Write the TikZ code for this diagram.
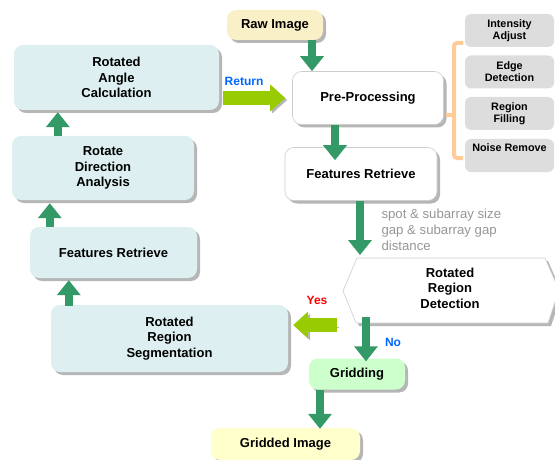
\documentclass[tikz,border=0pt]{standalone}
\usepackage{fontspec}
\setmainfont{Liberation Sans}
\usetikzlibrary{calc}
\usetikzlibrary{arrows.meta}
\usetikzlibrary{shadows}
\definecolor{boxcyan}{RGB}{221,239,240}
\definecolor{boxgray}{RGB}{221,221,221}
\definecolor{boxgreen}{RGB}{204,255,204}
\definecolor{rawyellow}{RGB}{250,240,200}
\definecolor{outyellow}{RGB}{255,255,204}
\definecolor{shadowgray}{RGB}{182,182,182}
\definecolor{edgegray}{RGB}{205,205,205}
\definecolor{darkgreen}{RGB}{51,153,102}
\definecolor{limegreen}{RGB}{153,204,0}
\definecolor{bracketorange}{RGB}{255,204,153}
\definecolor{notegray}{RGB}{150,150,150}
\definecolor{labelblue}{RGB}{0,102,255}

\tikzset{
    flowbox/.style={rounded corners=9pt, align=center, inner sep=0pt,
        font=\bfseries\fontsize{13}{15.5}\selectfont,
        drop shadow={shadow xshift=3pt, shadow yshift=-3pt, fill=shadowgray, opacity=1}},
    cyanbox/.style={flowbox, fill=boxcyan},
    whitebox/.style={flowbox, fill=white, draw=edgegray, line width=0.6pt},
    subbox/.style={rounded corners=6pt, align=center, inner sep=0pt, fill=boxgray,
        minimum width=89, minimum height=33,
        font=\bfseries\fontsize{10.8}{12}\selectfont},
    gbarrow/.style={darkgreen, line width=8pt, -{Triangle[width=23pt,length=15pt]}},
    lgarrow/.style={limegreen, line width=14pt, -{Triangle[width=26pt,length=15pt]},
        preaction={draw=shadowgray, transform canvas={shift={(2pt,-2pt)}}}},
    tag/.style={font=\bfseries\fontsize{12}{14}\selectfont}
}

\begin{document}
\begin{tikzpicture}[x=1pt, y=-1pt]
    \useasboundingbox (0,0) rectangle (555,460);

    % main column
    \node[flowbox, fill=rawyellow, minimum width=96, minimum height=30] (raw) at (275,25) {Raw Image};
    \node[whitebox, minimum width=151, minimum height=53] (pre) at (368,98) {Pre-Processing};
    \node[whitebox, minimum width=152, minimum height=53] (frR) at (361,174) {Features Retrieve};
    \node[flowbox, fill=boxgreen, minimum width=96, minimum height=31] (grid) at (357,374) {Gridding};
    \node[flowbox, fill=outyellow, minimum width=149, minimum height=32] (out) at (285.5,444) {Gridded Image};

    % left column
    \node[cyanbox, minimum width=205, minimum height=65] (angle) at (116.5,77.5) {Rotated\\Angle\\Calculation};
    \node[cyanbox, minimum width=182, minimum height=64] (dir) at (103,168) {Rotate\\Direction\\Analysis};
    \node[cyanbox, minimum width=167, minimum height=51] (frL) at (113.5,252.5) {Features Retrieve};
    \node[cyanbox, minimum width=237, minimum height=67] (seg) at (169.5,338.5) {Rotated\\Region\\Segmentation};

    % pre-processing steps
    \node[subbox] (sub1) at (509.5,30.5) {Intensity\\Adjust};
    \node[subbox] (sub2) at (509.5,72) {Edge\\Detection};
    \node[subbox] (sub3) at (509.5,113.5) {Region\\Filling};
    \node[subbox] (sub4) at (509.5,155.5) {Noise Remove\\\strut};
    \draw[bracketorange, line width=4pt, rounded corners=3pt]
        (463,43) -- (454,43) -- (454,158) -- (463,158);
    \draw[bracketorange, line width=4pt] (454,115) -- (446,115);

    % decision
    \coordinate (hexL) at (343,291);
    \fill[shadowgray] (346,294) -- (360,261) -- (548,261) -- (562,293) -- (551,326) -- (359,326) -- cycle;
    \draw[edgegray, fill=white, line width=0.6pt]
        (hexL) -- (357,258) -- (545,258) -- (559,290) -- (548,323) -- (356,323) -- cycle;
    \node[align=center, font=\bfseries\fontsize{13}{15.5}\selectfont] (detect) at (450,288) {Rotated\\Region\\Detection};
    \coordinate (hexTop) at (360,258);
    \coordinate (hexBot) at (366,317);
    \coordinate (hexYes) at (337,325);

    \node[align=left, anchor=west, text=notegray, font=\fontsize{13.2}{16}\selectfont] (note) at (378,230)
        {spot \& subarray size\\gap \& subarray gap\\distance};

    % connector ends
    \coordinate (segUp) at ($(seg.north west)+(18,1)$);
    \coordinate (frLIn) at ($(frL.south)+(0,2)$);
    \coordinate (frLUp) at ($(frL.north west)+(20,0)$);
    \coordinate (dirIn) at ($(dir.south)+(0,3)$);
    \coordinate (dirUp) at ($(dir.north west)+(46,0)$);
    \coordinate (angleIn) at ($(angle.south)+(0,2)$);
    \coordinate (retOut) at ($(angle.east |- pre.west)+(4,0)$);
    \coordinate (retIn) at ($(pre.west)+(-7,0)$);

    % connectors
    \draw[gbarrow] ([xshift=37pt]raw.south) -- ([xshift=37pt]raw.south |- pre.north);
    \draw[gbarrow] ([xshift=-33pt]pre.south) -- ([xshift=-33pt, yshift=-13pt]pre.south |- frR.north);
    \draw[gbarrow] (frR.south -| hexTop) -- ([yshift=3pt]hexTop);
    \draw[gbarrow] (hexBot) -- ([yshift=-3pt]hexBot |- grid.north);
    \draw[gbarrow] ([xshift=-37pt]grid.south) -- ([xshift=-37pt, yshift=-1pt]grid.south |- out.north);
    \draw[gbarrow] (segUp) -- (segUp |- frLIn);
    \draw[gbarrow] (frLUp) -- (frLUp |- dirIn);
    \draw[gbarrow] (dirUp) -- (dirUp |- angleIn);
    \draw[lgarrow] (retOut) -- (retIn);
    \draw[lgarrow] (hexYes) -- ($(seg.east |- hexYes)+(5,0)$);

    % labels
    \node[tag, text=labelblue] (ret) at (244,81) {Return};
    \node[tag, text=red] (yes) at (317,300) {Yes};
    \node[tag, text=labelblue] (no) at (393,342) {No};
\end{tikzpicture}
\end{document}
